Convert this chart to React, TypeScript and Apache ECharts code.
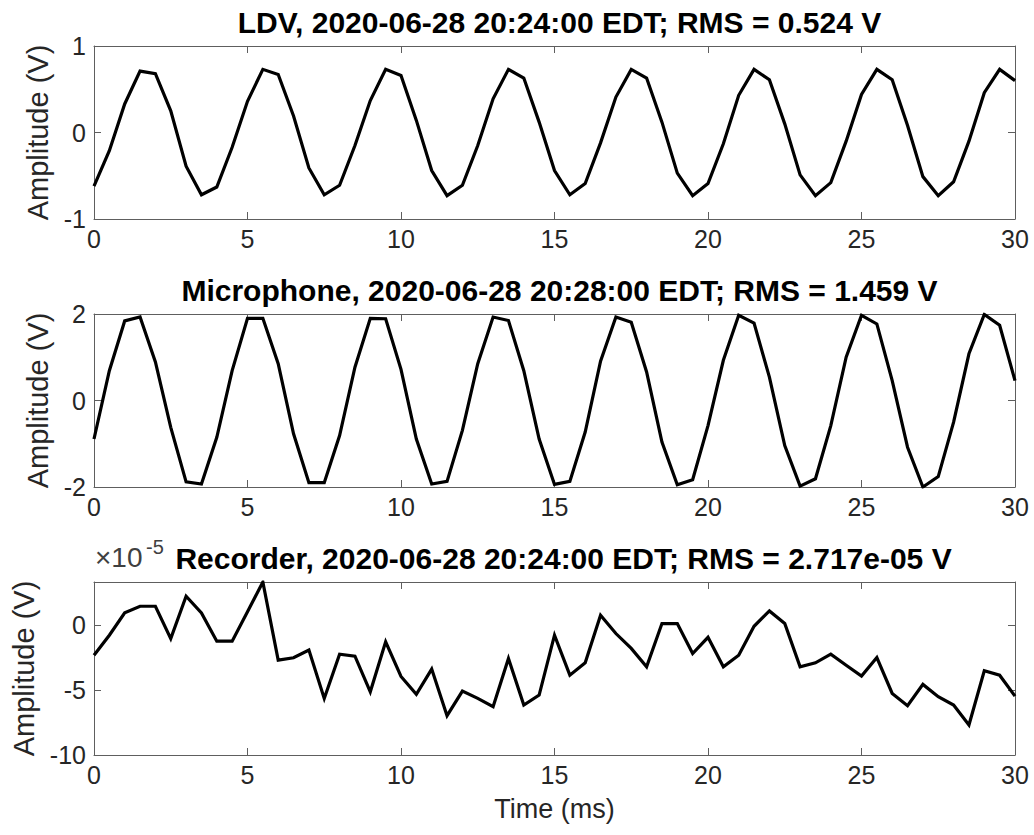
import React, { useEffect, useRef } from "react";
import * as echarts from "echarts";

const timeMs = [
  0, 0.5, 1, 1.5, 2, 2.5, 3, 3.5, 4, 4.5, 5, 5.5, 6, 6.5, 7, 7.5, 8, 8.5, 9, 9.5,
  10, 10.5, 11, 11.5, 12, 12.5, 13, 13.5, 14, 14.5, 15, 15.5, 16, 16.5, 17, 17.5, 18, 18.5, 19, 19.5,
  20, 20.5, 21, 21.5, 22, 22.5, 23, 23.5, 24, 24.5, 25, 25.5, 26, 26.5, 27, 27.5, 28, 28.5, 29, 29.5, 30,
];

const ldv = [
  -0.62, -0.21, 0.33, 0.71, 0.68, 0.25, -0.39, -0.72, -0.63, -0.17,
  0.36, 0.73, 0.67, 0.19, -0.41, -0.72, -0.61, -0.15, 0.37, 0.73,
  0.66, 0.14, -0.44, -0.73, -0.61, -0.15, 0.39, 0.73, 0.63, 0.12,
  -0.44, -0.72, -0.59, -0.12, 0.41, 0.73, 0.63, 0.12, -0.47, -0.73,
  -0.59, -0.13, 0.43, 0.73, 0.61, 0.1, -0.49, -0.73, -0.58, -0.1,
  0.44, 0.73, 0.61, 0.08, -0.51, -0.73, -0.57, -0.1, 0.46, 0.73, 0.6,
];

const microphone = [
  -0.89, 0.69, 1.84, 1.93, 0.89, -0.62, -1.88, -1.93, -0.85, 0.69,
  1.9, 1.9, 0.85, -0.77, -1.9, -1.9, -0.81, 0.77, 1.9, 1.89,
  0.72, -0.89, -1.93, -1.87, -0.69, 0.85, 1.93, 1.85, 0.69, -0.89,
  -1.94, -1.87, -0.73, 0.91, 1.93, 1.81, 0.66, -0.96, -1.95, -1.83,
  -0.58, 0.93, 1.97, 1.79, 0.54, -1.04, -1.98, -1.81, -0.58, 1.0,
  1.97, 1.77, 0.46, -1.08, -2.0, -1.76, -0.5, 1.08, 1.99, 1.74, 0.46,
];

// recorder values in units of 1e-5 V
const recorderE5 = [
  -2.31, -0.77, 0.95, 1.46, 1.46, -1.03, 2.23, 0.95, -1.23, -1.23,
  1.03, 3.33, -2.69, -2.51, -1.92, -5.64, -2.23, -2.38, -5.13, -1.28,
  -3.95, -5.33, -3.38, -6.97, -5.08, -5.64, -6.28, -2.56, -6.15, -5.38,
  -0.77, -3.85, -2.9, 0.77, -0.64, -1.79, -3.2, 0.13, 0.13, -2.18,
  -0.93, -3.2, -2.31, -0.08, 1.1, 0.13, -3.2, -2.9, -2.23, -3.08,
  -3.92, -2.49, -5.26, -6.2, -4.56, -5.51, -6.15, -7.69, -3.51, -3.85, -5.46,
];

const titles = [
  "LDV, 2020-06-28 20:24:00 EDT; RMS = 0.524 V",
  "Microphone, 2020-06-28 20:28:00 EDT; RMS = 1.459 V",
  "Recorder, 2020-06-28 20:24:00 EDT; RMS = 2.717e-05 V",
];
const xTicks = [0, 5, 10, 15, 20, 25, 30];
const yRanges = [
  { min: -1, max: 1, interval: 1 },
  { min: -2, max: 2, interval: 2 },
  { min: -10, max: 3.33, interval: 5 },
];
const yLabel = "Amplitude (V)";
const xLabel = "Time (ms)";
const exponentBase = "×10";
const exponentPower = "-5";

const FONT = "'Liberation Sans', Arial, Helvetica, sans-serif";
const AXIS_COLOR = "#5e5e5e";
const TEXT_COLOR = "#262626";

export default function App() {
  const ref = useRef<HTMLDivElement>(null);
  useEffect(() => {
    if (!ref.current) return;
    const chart = echarts.init(ref.current, undefined, { renderer: "svg" });
    const series = [ldv, microphone, recorderE5];
    const gridTops = [46, 314, 582];
    const gridH = 173;
    const gridLeft = 94;
    const gridW = 921;

    const grids = gridTops.map((t) => ({
      left: gridLeft,
      top: t,
      width: gridW,
      height: gridH,
      show: false,
    }));

    const xAxes: any[] = [];
    const yAxes: any[] = [];
    gridTops.forEach((_, i) => {
      const isLast = i === 2;
      xAxes.push({
        type: "value",
        gridIndex: i,
        position: "bottom",
        min: xTicks[0],
        max: xTicks[xTicks.length - 1],
        interval: 5,
        axisLine: { show: true, onZero: false, lineStyle: { color: AXIS_COLOR, width: 1 } },
        axisTick: { show: true, inside: true, length: 7, lineStyle: { color: AXIS_COLOR } },
        axisLabel: { color: TEXT_COLOR, fontSize: 25, fontFamily: FONT, margin: 7 },
        splitLine: { show: false },
        name: isLast ? xLabel : "",
        nameLocation: "middle",
        nameGap: 40,
        nameTextStyle: { color: TEXT_COLOR, fontSize: 27, fontFamily: FONT },
      });
      xAxes.push({
        type: "value",
        gridIndex: i,
        position: "top",
        min: xTicks[0],
        max: xTicks[xTicks.length - 1],
        interval: 5,
        axisLine: { show: true, onZero: false, lineStyle: { color: AXIS_COLOR, width: 1 } },
        axisTick: { show: true, inside: true, length: 7, lineStyle: { color: AXIS_COLOR } },
        axisLabel: { show: false },
        splitLine: { show: false },
      });
      const r = yRanges[i];
      yAxes.push({
        type: "value",
        gridIndex: i,
        position: "left",
        min: r.min,
        max: r.max,
        interval: r.interval,
        axisLine: { show: true, onZero: false, lineStyle: { color: AXIS_COLOR, width: 1 } },
        axisTick: { show: true, inside: true, length: 7, lineStyle: { color: AXIS_COLOR } },
        axisLabel: {
          color: TEXT_COLOR,
          fontSize: 25,
          fontFamily: FONT,
          margin: 8,
          formatter: (v: number) =>
            Math.abs(v / r.interval - Math.round(v / r.interval)) < 1e-9 ? String(v) : "",
        },
        splitLine: { show: false },
        name: yLabel,
        nameLocation: "middle",
        nameGap: 38,
        nameTextStyle: { color: TEXT_COLOR, fontSize: 29, fontFamily: FONT },
      });
      yAxes.push({
        type: "value",
        gridIndex: i,
        position: "right",
        min: r.min,
        max: r.max,
        interval: r.interval,
        axisLine: { show: true, onZero: false, lineStyle: { color: AXIS_COLOR, width: 1 } },
        axisTick: { show: true, inside: true, length: 7, lineStyle: { color: AXIS_COLOR } },
        axisLabel: { show: false },
        splitLine: { show: false },
      });
    });

    const titleOpts: any[] = titles.map((t, i) => ({
      text: t,
      left: gridLeft + gridW / 2,
      top: gridTops[i] - 44,
      textAlign: "center",
      textStyle: { fontSize: 30, fontWeight: "bold", color: "#000", fontFamily: FONT },
    }));
    titleOpts[2].left = gridLeft + gridW / 2 + 4;

    chart.setOption({
      animation: false,
      backgroundColor: "#ffffff",
      title: titleOpts,
      grid: grids,
      xAxis: xAxes,
      yAxis: yAxes,
      graphic: [
        {
          type: "text",
          left: 95,
          top: 543,
          style: {
            text: exponentBase,
            fill: "#404040",
            fontSize: 28,
            fontFamily: FONT,
          },
        },
        {
          type: "text",
          left: 146,
          top: 537,
          style: {
            text: exponentPower,
            fill: "#404040",
            fontSize: 20,
            fontFamily: FONT,
          },
        },
      ],
      series: series.map((vals, i) => ({
        type: "line",
        xAxisIndex: i * 2,
        yAxisIndex: i * 2,
        data: timeMs.map((t, k) => [t, vals[k]]),
        showSymbol: false,
        symbol: "none",
        lineStyle: { color: "#000", width: 3.2, join: "miter" },
        clip: true,
      })),
    });
    return () => chart.dispose();
  }, []);
  return (
    <div
      ref={ref}
      style={{ position: "fixed", left: 0, top: 0, width: 1034, height: 835, background: "#fff" }}
    />
  );
}
